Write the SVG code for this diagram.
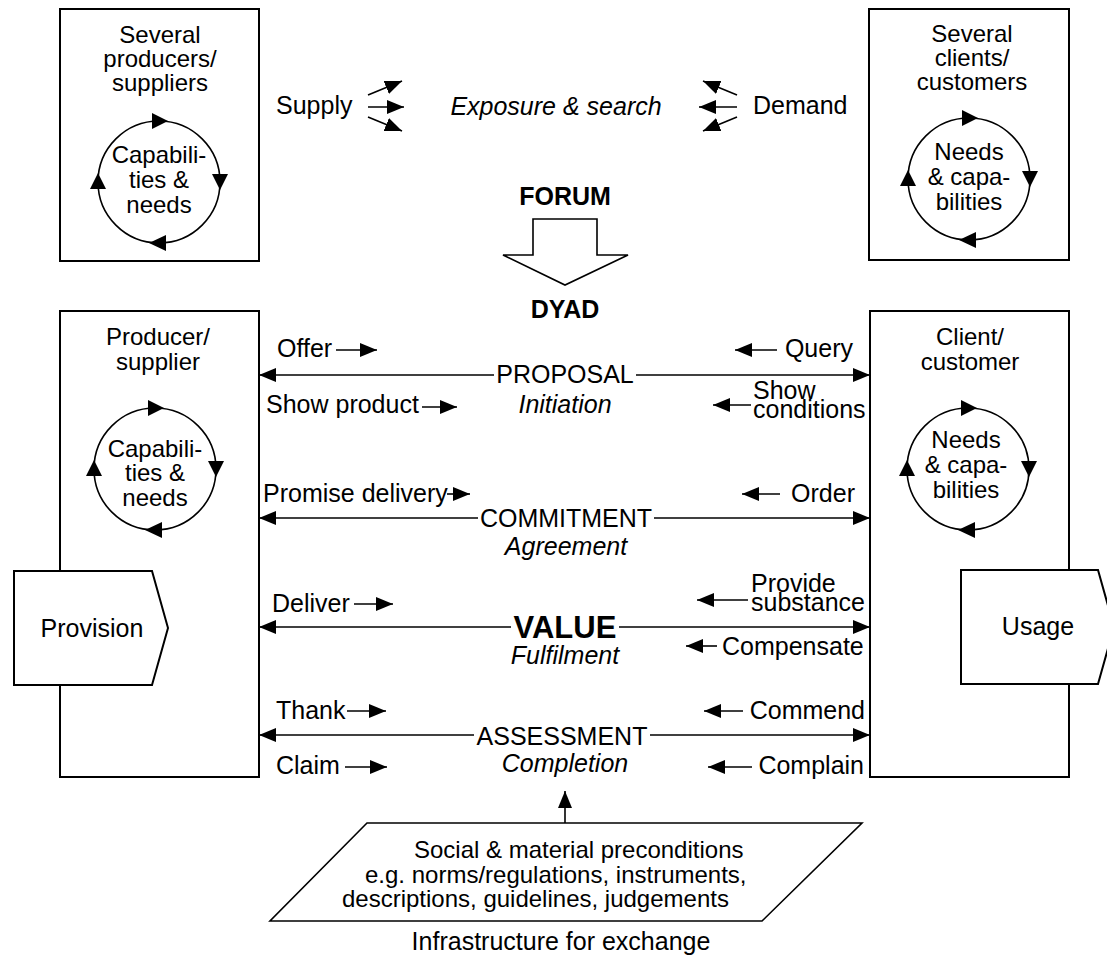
<svg xmlns="http://www.w3.org/2000/svg" width="1107" height="966" viewBox="0 0 1107 966">
<style>
text{font-family:"Liberation Sans",Arial,sans-serif;font-size:25px;fill:#000}
.s{font-size:24px}
.m{text-anchor:middle}
.e{text-anchor:end}
.i{font-style:italic}
.b{font-weight:bold}
.box{fill:#fff;stroke:#000;stroke-width:2}
.ln{stroke:#000;stroke-width:1.6;fill:none}
.tri{fill:#000;stroke:none}
</style>
<defs>
<marker id="ah" markerUnits="userSpaceOnUse" markerWidth="17" markerHeight="14" refX="17" refY="7" orient="auto" viewBox="0 0 17 14">
<path d="M0,0 L17,7 L0,14 z" fill="#000"/>
</marker>
<g id="cycle">
<circle cx="0" cy="0" r="61" class="ln"/>
<path class="tri" d="M9,-61 L-7,-69 L-7,-53 z"/>
<path class="tri" d="M61,8 L53,-8 L69,-8 z"/>
<path class="tri" d="M-10,61 L7,53 L7,69 z"/>
<path class="tri" d="M-61,-9 L-69,7 L-53,7 z"/>
</g>
</defs>
<rect width="1107" height="966" fill="#fff"/>

<g id="producers">
<rect class="box" x="60" y="9" width="199" height="252"/>
<text class="m s" x="160" y="43">Several</text>
<text class="m s" x="160" y="67">producers/</text>
<text class="m s" x="160" y="91">suppliers</text>
<use href="#cycle" x="159" y="182"/>
<text class="m s" x="159" y="163">Capabili-</text>
<text class="m s" x="159" y="188">ties &amp;</text>
<text class="m s" x="159" y="213">needs</text>
</g>

<g id="clients">
<rect class="box" x="869" y="9" width="200" height="251"/>
<text class="m s" x="972" y="42">Several</text>
<text class="m s" x="972" y="66">clients/</text>
<text class="m s" x="972" y="90">customers</text>
<use href="#cycle" x="969" y="179"/>
<text class="m s" x="969" y="160">Needs</text>
<text class="m s" x="969" y="185">&amp; capa-</text>
<text class="m s" x="969" y="210">bilities</text>
</g>

<g id="forum">
<text x="276" y="114">Supply</text>
<text class="m i" x="556" y="115">Exposure &amp; search</text>
<text x="753" y="114">Demand</text>
<text class="m b" x="565" y="205">FORUM</text>
<path class="box" d="M533,219 L597,219 L597,255 L628,255 L565,285 L503,255 L533,255 z" style="stroke-width:1.6"/>
<text class="m b" x="565" y="318">DYAD</text>
</g>

<g id="producer">
<rect class="box" x="60" y="311" width="199" height="466"/>
<text class="m s" x="158" y="345">Producer/</text>
<text class="m s" x="158" y="370">supplier</text>
<use href="#cycle" x="155" y="469"/>
<text class="m s" x="155" y="457">Capabili-</text>
<text class="m s" x="155" y="481">ties &amp;</text>
<text class="m s" x="155" y="506">needs</text>
</g>

<g id="provision">
<path class="box" d="M14,571 L152,571 L168,628 L152,685 L14,685 z"/>
<text class="m" x="92" y="637">Provision</text>
</g>

<g id="client">
<rect class="box" x="870" y="311" width="199" height="466"/>
<text class="m s" x="970" y="345">Client/</text>
<text class="m s" x="970" y="370">customer</text>
<use href="#cycle" x="968" y="469"/>
<text class="m s" x="966" y="448">Needs</text>
<text class="m s" x="966" y="473">&amp; capa-</text>
<text class="m s" x="966" y="498">bilities</text>
</g>

<g id="usage">
<path class="box" d="M961,570 L1098,570 L1114,627 L1098,684 L961,684 z"/>
<text class="m" x="1038" y="635">Usage</text>
</g>

<g id="infrastructure">
<path class="box" d="M367,823 L862,823 L762,921 L270,921 z" style="stroke-width:1.6"/>
<text class="s" x="414" y="858">Social &amp; material preconditions</text>
<text class="s" x="365" y="883">e.g. norms/regulations, instruments,</text>
<text class="s" x="342" y="907">descriptions, guidelines, judgements</text>
<text class="m" x="561" y="950">Infrastructure for exchange</text>
</g>

<g id="labels">
<text x="277" y="357">Offer</text>
<text class="e" x="853" y="357">Query</text>
<text class="m" x="565" y="383">PROPOSAL</text>
<text class="m i" x="565" y="413">Initiation</text>
<text x="266" y="413">Show product</text>
<text x="753" y="399">Show</text>
<text x="753" y="418">conditions</text>

<text x="263" y="502">Promise delivery</text>
<text class="e" x="855" y="502">Order</text>
<text class="m" x="566" y="527">COMMITMENT</text>
<text class="m i" x="566" y="555">Agreement</text>

<text x="272" y="612">Deliver</text>
<text x="751" y="592">Provide</text>
<text x="751" y="611">substance</text>
<text class="m b" x="565" y="638" style="font-size:31px">VALUE</text>
<text class="m i" x="565" y="664">Fulfilment</text>
<text x="722" y="655">Compensate</text>

<text x="276" y="719">Thank</text>
<text class="e" x="865" y="719">Commend</text>
<text class="m" x="562" y="745">ASSESSMENT</text>
<text class="m i" x="565" y="772">Completion</text>
<text x="276" y="774">Claim</text>
<text class="e" x="864" y="774">Complain</text>
</g>

<g id="connectors" class="ln" marker-end="url(#ah)">
<line x1="368" y1="95" x2="402" y2="81"/>
<line x1="368" y1="107" x2="404" y2="107"/>
<line x1="368" y1="117" x2="402" y2="131"/>
<line x1="737" y1="95" x2="703" y2="81"/>
<line x1="737" y1="107" x2="699" y2="107"/>
<line x1="737" y1="117" x2="703" y2="131"/>

<line x1="494" y1="375" x2="259" y2="375"/>
<line x1="636" y1="375" x2="870" y2="375"/>
<line x1="478" y1="518" x2="259" y2="518"/>
<line x1="654" y1="518" x2="870" y2="518"/>
<line x1="511" y1="627" x2="259" y2="627"/>
<line x1="619" y1="627" x2="870" y2="627"/>
<line x1="474" y1="735" x2="259" y2="735"/>
<line x1="650" y1="735" x2="870" y2="735"/>

<line x1="336" y1="350" x2="377" y2="350"/>
<line x1="777" y1="350" x2="735" y2="350"/>
<line x1="422" y1="407" x2="457" y2="407"/>
<line x1="751" y1="405" x2="713" y2="405"/>
<line x1="447" y1="494" x2="470" y2="494"/>
<line x1="780" y1="494" x2="742" y2="494"/>
<line x1="354" y1="604" x2="393" y2="604"/>
<line x1="748" y1="600" x2="697" y2="600"/>
<line x1="717" y1="646" x2="686" y2="646"/>
<line x1="347" y1="711" x2="386" y2="711"/>
<line x1="743" y1="711" x2="704" y2="711"/>
<line x1="345" y1="767" x2="387" y2="767"/>
<line x1="752" y1="767" x2="708" y2="767"/>

<line x1="565" y1="823" x2="565" y2="791"/>
</g>
</svg>
